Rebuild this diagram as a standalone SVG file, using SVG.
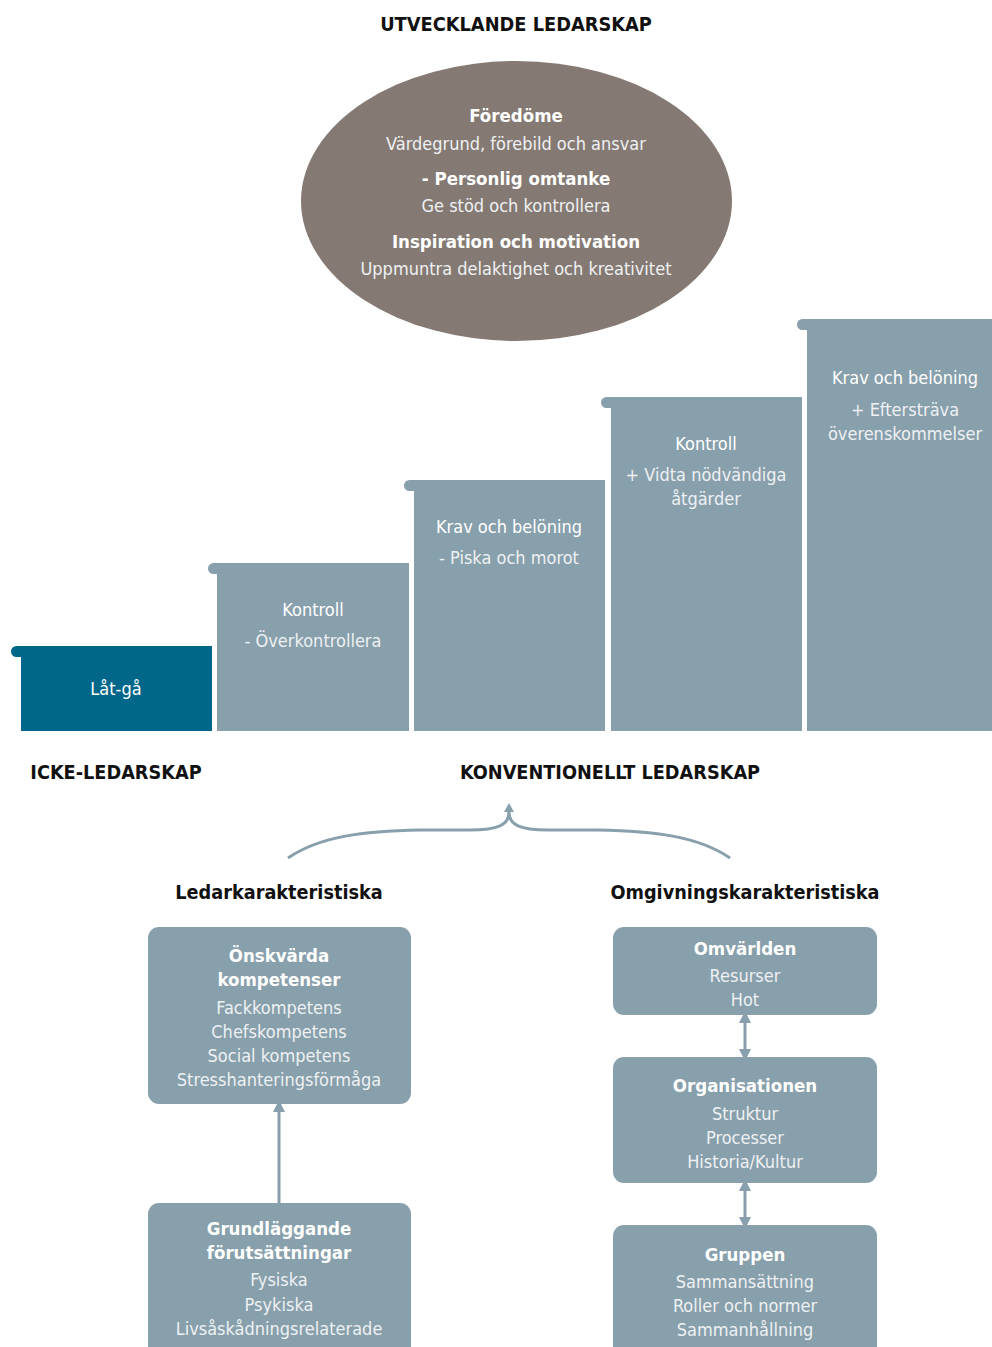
<svg xmlns="http://www.w3.org/2000/svg" width="992" height="1347" viewBox="0 0 992 1347">
  <defs>
    <style>
      text { font-family: "Liberation Sans Narrow", "DejaVu Sans Condensed", "Roboto Condensed", sans-serif; text-anchor: middle; }
      .title { font-weight: bold; font-size: 19.8px; fill: #111; }
      .sub { font-weight: bold; font-size: 19.7px; fill: #111; }
      .hd { font-weight: bold; font-size: 18.5px; fill: #ffffff; }
      .tx { font-size: 18px; fill: #eef1f3; }
      .sh { font-size: 18px; fill: #ffffff; }
      .step { fill: #889fac; }
      .box { fill: #889fac; }
      .link { fill: none; stroke: #889fac; stroke-width: 3; }
    </style>
    <marker id="arr" viewBox="0 0 10 10" refX="5" refY="5" markerWidth="4" markerHeight="4" orient="auto-start-reverse">
      <path d="M0,0 L10,5 L0,10 Z" fill="#889fac"/>
    </marker>
  </defs>

  <rect width="992" height="1347" fill="#ffffff"/>

  <text class="title" x="516" y="31">UTVECKLANDE LEDARSKAP</text>

  <g id="utvecklande">
    <ellipse cx="516.5" cy="201" rx="215.5" ry="140" fill="#857a73"/>
    <text class="hd" x="516" y="122">Föredöme</text>
    <text class="tx" x="516" y="150">Värdegrund, förebild och ansvar</text>
    <text class="hd" x="516" y="185">- Personlig omtanke</text>
    <text class="tx" x="516" y="212">Ge stöd och kontrollera</text>
    <text class="hd" x="516" y="248">Inspiration och motivation</text>
    <text class="tx" x="516" y="275">Uppmuntra delaktighet och kreativitet</text>
  </g>

  <!-- staircase: each step is a block with a rounded tab at its top-left -->
  <g id="step-latga">
    <path d="M16.5,646 H212 V731 H21 V657 H16.5 A5.5,5.5 0 0 1 16.5,646 Z" fill="#00678a"/>
    <text class="sh" x="116" y="695">Låt-gå</text>
  </g>
  <g id="step-kontroll1">
    <path class="step" d="M213.5,563 H409 V731 H217 V574 H213.5 A5.5,5.5 0 0 1 213.5,563 Z"/>
    <text class="sh" x="313" y="616">Kontroll</text>
    <text class="tx" x="313" y="647">- Överkontrollera</text>
  </g>
  <g id="step-krav1">
    <path class="step" d="M409.5,480 H605 V731 H414 V491 H409.5 A5.5,5.5 0 0 1 409.5,480 Z"/>
    <text class="sh" x="509" y="533">Krav och belöning</text>
    <text class="tx" x="509" y="564">- Piska och morot</text>
  </g>
  <g id="step-kontroll2">
    <path class="step" d="M606.5,397 H802 V731 H611 V408 H606.5 A5.5,5.5 0 0 1 606.5,397 Z"/>
    <text class="sh" x="706" y="450">Kontroll</text>
    <text class="tx" x="706" y="481">+ Vidta nödvändiga</text>
    <text class="tx" x="706" y="505">åtgärder</text>
  </g>
  <g id="step-krav2">
    <path class="step" d="M802.5,319 H992 V731 H807 V330 H802.5 A5.5,5.5 0 0 1 802.5,319 Z"/>
    <text class="sh" x="905" y="384">Krav och belöning</text>
    <text class="tx" x="905" y="416">+ Eftersträva</text>
    <text class="tx" x="905" y="440">överenskommelser</text>
  </g>

  <text class="sub" x="116" y="779">ICKE-LEDARSKAP</text>
  <text class="sub" x="610" y="779">KONVENTIONELLT LEDARSKAP</text>

  <text class="sub" x="279" y="899">Ledarkarakteristiska</text>
  <text class="sub" x="745" y="899">Omgivningskarakteristiska</text>

  <g id="kompetenser">
    <rect class="box" x="148" y="927" width="263" height="177" rx="11"/>
    <text class="hd" x="279" y="962">Önskvärda</text>
    <text class="hd" x="279" y="986">kompetenser</text>
    <text class="tx" x="279" y="1014">Fackkompetens</text>
    <text class="tx" x="279" y="1038">Chefskompetens</text>
    <text class="tx" x="279" y="1062">Social kompetens</text>
    <text class="tx" x="279" y="1086">Stresshanteringsförmåga</text>
  </g>
  <g id="grundlaggande">
    <rect class="box" x="148" y="1203" width="263" height="160" rx="11"/>
    <text class="hd" x="279" y="1235">Grundläggande</text>
    <text class="hd" x="279" y="1259">förutsättningar</text>
    <text class="tx" x="279" y="1286">Fysiska</text>
    <text class="tx" x="279" y="1311">Psykiska</text>
    <text class="tx" x="279" y="1335">Livsåskådningsrelaterade</text>
  </g>
  <g id="omvarlden">
    <rect class="box" x="613" y="927" width="264" height="88" rx="11"/>
    <text class="hd" x="745" y="955">Omvärlden</text>
    <text class="tx" x="745" y="982">Resurser</text>
    <text class="tx" x="745" y="1006">Hot</text>
  </g>
  <g id="organisationen">
    <rect class="box" x="613" y="1057" width="264" height="126" rx="11"/>
    <text class="hd" x="745" y="1092">Organisationen</text>
    <text class="tx" x="745" y="1120">Struktur</text>
    <text class="tx" x="745" y="1144">Processer</text>
    <text class="tx" x="745" y="1168">Historia/Kultur</text>
  </g>
  <g id="gruppen">
    <rect class="box" x="613" y="1225" width="264" height="140" rx="11"/>
    <text class="hd" x="745" y="1261">Gruppen</text>
    <text class="tx" x="745" y="1288">Sammansättning</text>
    <text class="tx" x="745" y="1312">Roller och normer</text>
    <text class="tx" x="745" y="1336">Sammanhållning</text>
  </g>

  <g id="connectors">
    <path class="link" stroke-width="2.5" d="M288,858 C320,836 365,831 420,830 L470,830 C498,830 509,825 509,812 C509,825 520,830 548,830 L598,830 C653,831 698,836 730,858"/>
    <path d="M509,803 L514,812 L504,812 Z" fill="#889fac"/>
    <line class="link" x1="279" y1="1203" x2="279" y2="1106" marker-end="url(#arr)"/>
    <line class="link" x1="745" y1="1017" x2="745" y2="1055" marker-start="url(#arr)" marker-end="url(#arr)"/>
    <line class="link" x1="745" y1="1185" x2="745" y2="1223" marker-start="url(#arr)" marker-end="url(#arr)"/>
  </g>
</svg>
